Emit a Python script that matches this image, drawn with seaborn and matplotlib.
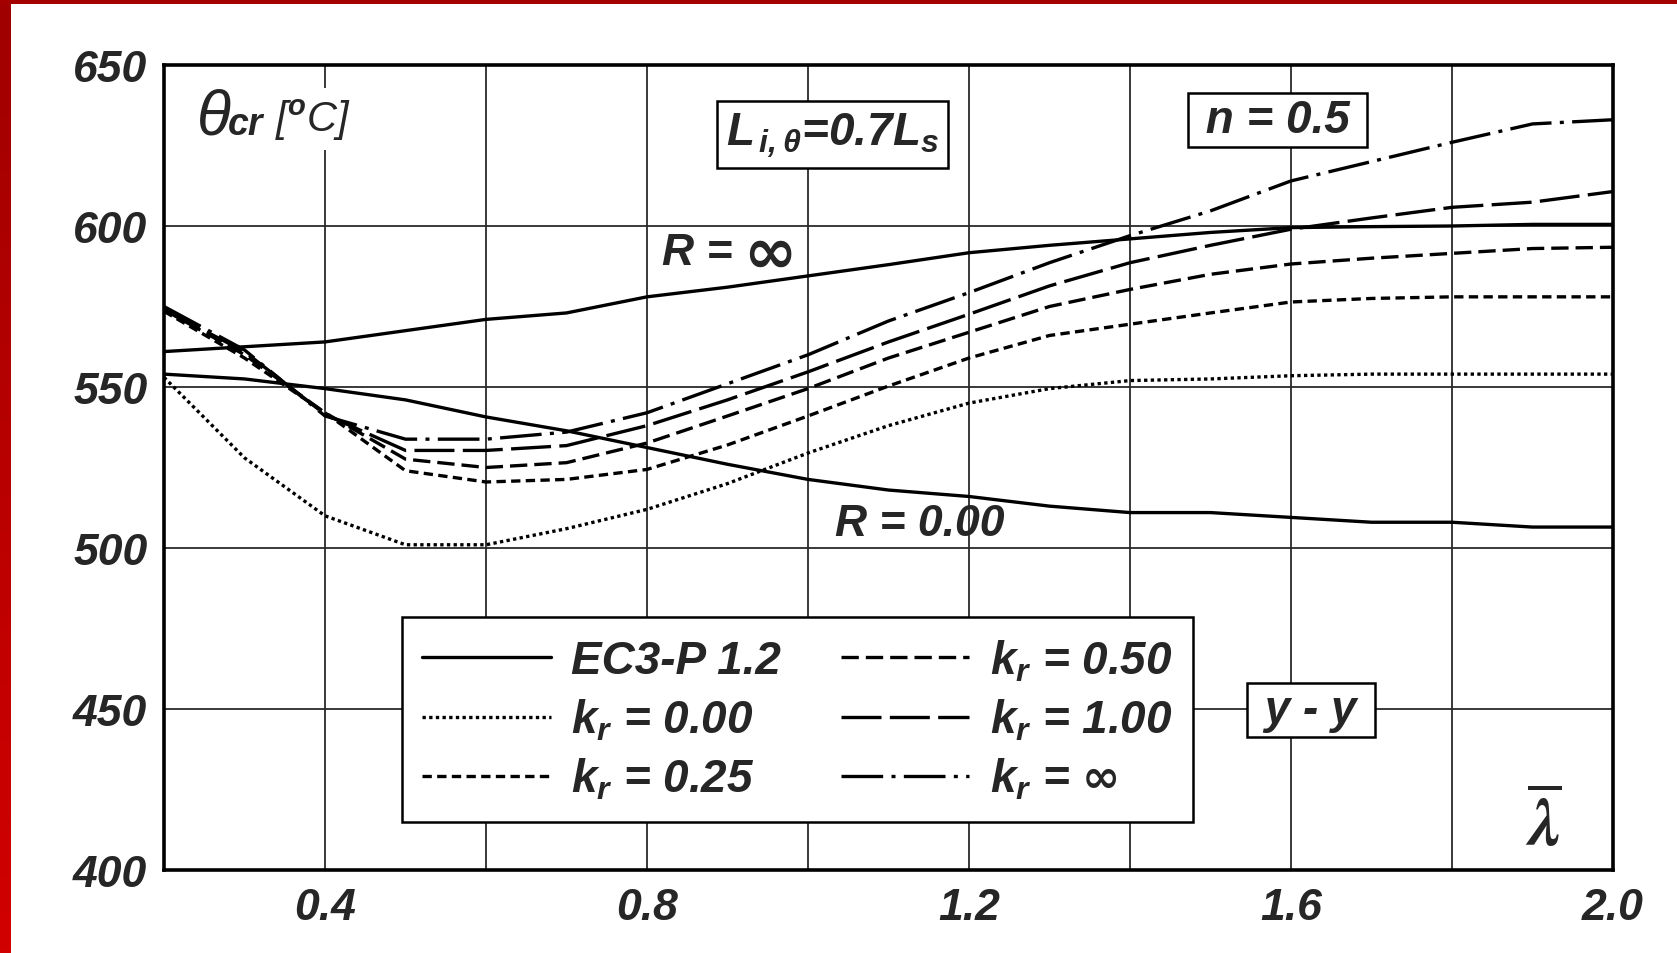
import numpy as np
import pandas as pd
import matplotlib
matplotlib.use("Agg")
import matplotlib.pyplot as plt
import seaborn as sns

# Non-dimensional slenderness
lam = [0.2, 0.3, 0.4, 0.5, 0.6, 0.7, 0.8, 0.9, 1.0, 1.1, 1.2, 1.3, 1.4, 1.5, 1.6, 1.7, 1.8, 1.9, 2.0]

# EC3-P 1.2 critical temperatures for the two end-restraint limits
ec3_r_inf = [561, 562.5, 564, 567.5, 571, 573, 578, 581, 584.5, 588, 591.7, 594, 596, 598, 599.5, 599.8, 600, 600.5, 600.5]
ec3_r_zero = [554, 552.5, 549.5, 546, 540.7, 536.4, 531.2, 526, 521.3, 518, 516, 513, 511, 511, 509.5, 508, 508, 506.5, 506.5]

# Rotational restraint stiffness k_r
kr_000 = [553, 528, 510, 501, 501, 506, 512, 520, 529.5, 538, 545, 549.5, 552, 552.5, 553.5, 554, 554, 554, 554]
kr_025 = [573.5, 559, 542, 524, 520.5, 521.3, 524.4, 532, 541, 550.3, 559, 566, 569.5, 573, 576.4, 577.5, 578, 578, 578]
kr_050 = [574, 560, 542, 527.6, 525, 526.5, 532.6, 541, 549.5, 559, 567, 575, 580.3, 585, 588.2, 590, 591.5, 593, 593.4]
kr_100 = [574, 561, 541.5, 530.3, 530.3, 531.8, 538, 546, 554.7, 564, 572.6, 581.4, 588.6, 594, 599, 602.5, 605.8, 607.4, 610.7]
kr_inf = [575, 561.5, 541, 533.8, 533.8, 536, 542, 551, 560, 570.5, 579.3, 588.6, 597, 604.7, 614, 620, 626, 631.7, 633]

x_major = [0.4, 0.8, 1.2, 1.6, 2.0]
x_minor = [0.6, 1.0, 1.4, 1.8]
y_ticks = [400, 450, 500, 550, 600, 650]

sns.set_theme(style="white")
plt.rcParams["font.family"] = ["Liberation Sans", "DejaVu Sans"]
plt.rcParams["font.weight"] = "bold"
plt.rcParams["font.style"] = "italic"
plt.rcParams["mathtext.fontset"] = "custom"
plt.rcParams["mathtext.it"] = "Liberation Sans:bold:italic"
plt.rcParams["mathtext.rm"] = "Liberation Sans:bold:italic"
plt.rcParams["mathtext.bf"] = "Liberation Sans:bold:italic"
plt.rcParams["mathtext.sf"] = "DejaVu Sans:bold"

W, H = 1677, 954
fig = plt.figure(figsize=(W / 100, H / 100), dpi=100)
fig.patch.set_facecolor("white")

# Red frame along the left and top edges
grad = fig.add_axes([0, 0, 11 / W, 1])
grad.imshow(np.linspace(0, 1, 256).reshape(-1, 1), aspect="auto",
            cmap=matplotlib.colors.LinearSegmentedColormap.from_list("r", ["#d20000", "#a00000"]),
            origin="lower", extent=[0, 1, 0, 1])
grad.axis("off")
top = fig.add_axes([0, 1 - 5 / H, 1, 5 / H])
top.set_facecolor("#a50000")
top.set_xticks([]); top.set_yticks([])
for s in top.spines.values():
    s.set_visible(False)

ax = fig.add_axes([164 / W, 83 / H, 1449 / W, 805 / H])
ax.set_facecolor("white")

lw = 2.4
series = [
    ("EC3-P 1.2", ec3_r_inf, "-"),
    (None, ec3_r_zero, "-"),
    (r"$k_r$ = 0.00", kr_000, (0, (1.0, 1.0))),
    (r"$k_r$ = 0.25", kr_025, (0, (2.8, 1.6))),
    (r"$k_r$ = 0.50", kr_050, (0, (5.2, 2.1))),
    (r"$k_r$ = 1.00", kr_100, (0, (12.0, 2.5))),
    (r"$k_r$ = $\mathsf{\infty}$", kr_inf, (0, (12.5, 2.5, 1.2, 2.5))),
]
handles = []
for label, vals, ls in series:
    df = pd.DataFrame({"lam": lam, "theta": vals})
    sns.lineplot(data=df, x="lam", y="theta", ax=ax, color="black",
                 linestyle=ls, lw=lw, legend=False)
    line = ax.get_lines()[-1]
    line.set_dash_capstyle("butt")
    if label is not None:
        line.set_label(label)
        handles.append(line)

ax.set_xlim(0.2, 2.0)
ax.set_ylim(400, 650)
ax.set_xticks(x_major)
ax.set_xticklabels([f"{v:.1f}" for v in x_major])
ax.set_xticks(x_minor, minor=True)
ax.set_yticks(y_ticks)
ax.set_yticklabels([str(v) for v in y_ticks])
ax.grid(True, which="both", color="#2a2a2a", lw=1.3)
ax.set_axisbelow(True)
ax.tick_params(axis="both", which="both", length=0, labelsize=32, pad=12)
for t in ax.get_xticklabels() + ax.get_yticklabels():
    t.set_fontweight("bold"); t.set_fontstyle("italic")
for s in ax.spines.values():
    s.set_visible(True)
    s.set_color("black")
    s.set_linewidth(2.6)
ax.set_xlabel(""); ax.set_ylabel("")

leg = ax.legend(handles=handles, ncol=2, loc="upper left", bbox_to_anchor=(0.164, 0.314),
                borderaxespad=0, frameon=True, fancybox=False, fontsize=33,
                handlelength=2.8, handletextpad=0.45, columnspacing=1.3,
                labelspacing=0.3, borderpad=0.45)
leg.get_frame().set_edgecolor("black")
leg.get_frame().set_linewidth(1.8)
leg.get_frame().set_facecolor("white")
leg.get_frame().set_alpha(1)

def framed(pad):
    return dict(boxstyle=f"square,pad={pad}", fc="white", ec="black", lw=1.8)

blank = dict(boxstyle="square,pad=0.2", fc="white", ec="none")

# Ordinate symbol in the upper-left corner
ax.text(0.241, 628.6, "θ", fontsize=45, fontweight="normal", fontstyle="italic",
        ha="left", va="baseline", bbox=blank)
ax.text(0.3379, 629.6, r"[$^{o}$C]", fontsize=30, fontweight="normal", ha="left", va="baseline",
        bbox=blank)
ax.text(0.2789, 628.6, "cr", fontsize=27, ha="left", va="baseline")

ax.text(1.03, 628.3, r"$L_{\,i,\theta}$=0.7$L_s$", fontsize=33, ha="center", va="center",
        bbox=framed(0.2))
ax.text(1.583, 632.9, " n = 0.5 ", fontsize=33, ha="center", va="center", bbox=framed(0.11))
ax.text(1.625, 449.7, " y - y ", fontsize=33, ha="center", va="center", bbox=framed(0.11))

# Curve annotations for the two EC3 limits
ax.text(0.8186, 591.9, "R =", fontsize=32, ha="left", va="center")
ax.text(0.9528, 591.4, "∞", fontsize=46, fontweight="bold", fontstyle="normal",
        family=["DejaVu Sans"], ha="center", va="center")
ax.text(1.139, 507.7, "R = 0.00", fontsize=32, ha="center", va="center")

ax.text(1.913, 414.3, r"$\overline{\lambda}$", fontsize=48, ha="center", va="center",
        math_fontfamily="stix")

fig.savefig("out.png", dpi=100)
